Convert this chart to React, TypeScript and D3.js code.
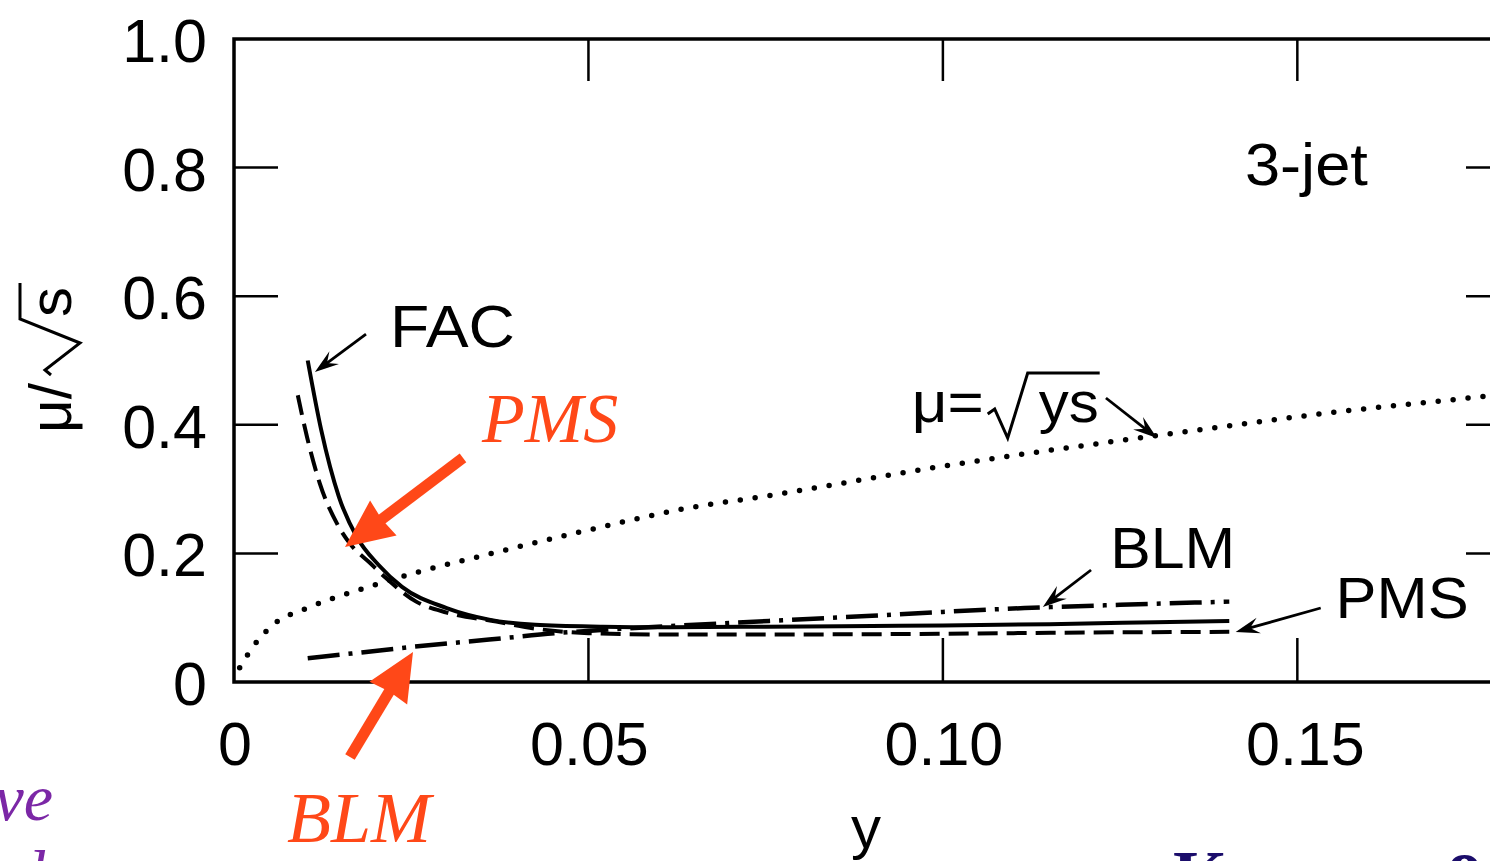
import React from 'react';
import * as d3 from 'd3';

// ---------- data ----------
const xTickValues = [0, 0.05, 0.1, 0.15];
const xTickLabels = ['0', '0.05', '0.10', '0.15'];
const yTickValues = [0, 0.2, 0.4, 0.6, 0.8, 1.0];
const yTickLabels = ['0', '0.2', '0.4', '0.6', '0.8', '1.0'];

// FAC (solid)
const facY = [0.0104, 0.0123, 0.0148, 0.0173, 0.0204, 0.0237, 0.030, 0.036, 0.0425, 0.052, 0.060, 0.075, 0.090, 0.100, 0.115, 0.130, 0.1404];
const facMu = [0.500, 0.392, 0.288, 0.226, 0.182, 0.148, 0.115, 0.097, 0.089, 0.086, 0.085, 0.086, 0.087, 0.088, 0.090, 0.093, 0.095];

// PMS (dashed)
const pmsY = [0.0090, 0.0103, 0.0121, 0.0145, 0.0163, 0.0192, 0.0214, 0.0257, 0.030, 0.037, 0.0425, 0.050, 0.060, 0.080, 0.100, 0.120, 0.1404];
const pmsMu = [0.446, 0.381, 0.309, 0.247, 0.216, 0.185, 0.162, 0.125, 0.108, 0.094, 0.083, 0.076, 0.074, 0.074, 0.075, 0.077, 0.078];

// BLM (dash-dot)
const blmY = [0.0104, 0.018, 0.0255, 0.036, 0.0455, 0.055, 0.065, 0.0755, 0.090, 0.100, 0.1115, 0.125, 0.1404];
const blmMu = [0.037, 0.046, 0.055, 0.066, 0.076, 0.083, 0.089, 0.095, 0.103, 0.109, 0.115, 0.120, 0.125];

// mu = sqrt(ys) (dotted)
const sqY = [0.0008, 0.0025, 0.0048, 0.011, 0.0173, 0.026, 0.036, 0.0487, 0.0638, 0.0755, 0.0996, 0.130, 0.1556, 0.177, 0.185];
const sqMu = [0.022, 0.052, 0.082, 0.118, 0.142, 0.171, 0.199, 0.233, 0.270, 0.290, 0.335, 0.383, 0.420, 0.445, 0.455];

// ---------- layout ----------
const W = 1490;
const H = 861;
const SANS = 'Liberation Sans, Arial, Helvetica, sans-serif';
const SCRIPT = 'Liberation Serif, DejaVu Serif, serif';
const RED = '#FF4818';

type P = [number, number];
const zip = (a: number[], b: number[]): P[] => a.map((v, i) => [v, b[i]] as P);

function headPath(x1: number, y1: number, x2: number, y2: number, len: number, half: number, notch: number) {
  const a = Math.atan2(y2 - y1, x2 - x1);
  const c = Math.cos(a), s = Math.sin(a);
  const pt = (u: number, v: number) => [x2 - u * c - v * s, y2 - u * s + v * c];
  const l = pt(len, half), r = pt(len, -half), n = pt(notch, 0);
  return `M${x2},${y2}L${l[0]},${l[1]}L${n[0]},${n[1]}L${r[0]},${r[1]}Z`;
}

function shaftEnd(x1: number, y1: number, x2: number, y2: number, back: number): P {
  const a = Math.atan2(y2 - y1, x2 - x1);
  return [x2 - back * Math.cos(a), y2 - back * Math.sin(a)];
}

export default function App() {
  const x = d3.scaleLinear().domain([0, 0.18]).range([234, 1510]);
  const y = d3.scaleLinear().domain([0, 1]).range([682, 39]);
  const line = d3
    .line<P>()
    .x((d) => x(d[0]))
    .y((d) => y(d[1]))
    .curve(d3.curveMonotoneX);

  const x0 = x(0), x1 = x(0.18), yT = y(1), yB = y(0);
  const tickLen = 44;

  // black annotation arrows in data space: [tailX, tailY, tipX, tipY]
  const blackArrows: number[][] = [
    [0.01862, 0.5412, 0.01142, 0.4821],
    [0.1230, 0.4417, 0.1302, 0.3795],
    [0.1209, 0.1742, 0.1141, 0.1166],
    [0.1533, 0.1151, 0.1413, 0.0778],
  ];
  const redArrows: number[][] = [
    [0.0323, 0.3484, 0.01566, 0.2100],
    [0.01636, -0.1166, 0.02525, 0.0467],
  ];

  return (
    <svg
      width={W}
      height={H}
      style={{ position: 'absolute', left: 0, top: 0, background: '#fff' }}
      fontFamily={SANS}
    >
      <defs>
        <clipPath id="plotclip">
          <rect x={x0} y={yT} width={x1 - x0} height={yB - yT} />
        </clipPath>
      </defs>
      <rect x={0} y={0} width={W} height={H} fill="#fff" />

      {/* frame */}
      <rect x={x0} y={yT} width={x1 - x0} height={yB - yT} fill="none" stroke="#000" strokeWidth={3.5} />

      {/* y ticks */}
      {yTickValues.map((v, i) => (
        <g key={'yt' + i}>
          {v > 0 && v < 1 && (
            <>
              <line x1={x0} x2={x0 + tickLen} y1={y(v)} y2={y(v)} stroke="#000" strokeWidth={2.5} />
              <line x1={x1 - tickLen} x2={x1} y1={y(v)} y2={y(v)} stroke="#000" strokeWidth={2.5} />
            </>
          )}
          <text x={207} y={y(v) + 23} textAnchor="end" fontSize={61} fill="#000">
            {yTickLabels[i]}
          </text>
        </g>
      ))}

      {/* x ticks */}
      {xTickValues.map((v, i) => (
        <g key={'xt' + i}>
          {v > 0 && (
            <>
              <line x1={x(v)} x2={x(v)} y1={yB} y2={yB - tickLen} stroke="#000" strokeWidth={2.5} />
              <line x1={x(v)} x2={x(v)} y1={yT} y2={yT + tickLen - 2} stroke="#000" strokeWidth={2.5} />
            </>
          )}
          <text x={x(v) + (i === 3 ? 8 : 1)} y={765} textAnchor="middle" fontSize={61} fill="#000">
            {xTickLabels[i]}
          </text>
        </g>
      ))}

      {/* axis titles */}
      <text x={866} y={848} textAnchor="middle" fontSize={60} fill="#000">y</text>
      <g transform="translate(71,433) rotate(-90)">
        <text x={0} y={0} fontSize={60} textLength={50} lengthAdjust="spacingAndGlyphs" fill="#000">μ/</text>
        <path d="M58,-20L63,-26L90,9L114,-51L150,-51" fill="none" stroke="#000" strokeWidth={3} />
        <text x={116} y={0} fontSize={60} fill="#000">s</text>
      </g>

      {/* curves */}
      <g clipPath="url(#plotclip)" fill="none" stroke="#000">
        <path d={line(zip(sqY, sqMu)) || ''} strokeWidth={5.5} strokeDasharray="0 15" strokeLinecap="round" />
        <path d={line(zip(facY, facMu)) || ''} strokeWidth={4} />
        <path d={line(zip(pmsY, pmsMu)) || ''} strokeWidth={4} strokeDasharray="20 9" />
        <path d={line(zip(blmY, blmMu)) || ''} strokeWidth={4.5} strokeDasharray="32 9 4 9" />
      </g>

      {/* black labels */}
      <text x={x(0.0220)} y={y(0.521)} fontSize={60} textLength={125} lengthAdjust="spacingAndGlyphs" fill="#000">FAC</text>
      <text x={x(0.1426)} y={y(0.773)} fontSize={60} textLength={123} lengthAdjust="spacingAndGlyphs" fill="#000">3-jet</text>
      <text x={x(0.1236)} y={y(0.1773)} fontSize={58} textLength={125} lengthAdjust="spacingAndGlyphs" fill="#000">BLM</text>
      <text x={x(0.1554)} y={y(0.0995)} fontSize={58} textLength={133} lengthAdjust="spacingAndGlyphs" fill="#000">PMS</text>
      <g transform={`translate(${x(0.0956)},${y(0.4043)})`}>
        <text x={0} y={0} fontSize={58} textLength={72} lengthAdjust="spacingAndGlyphs" fill="#000">μ=</text>
        <path d="M76,-8L83,-13L96,16L116,-49L188,-49" fill="none" stroke="#000" strokeWidth={3} />
        <text x={127} y={0} fontSize={58} textLength={60} lengthAdjust="spacingAndGlyphs" fill="#000">ys</text>
      </g>

      {/* black arrows */}
      {blackArrows.map((a, i) => {
        const [tx, ty, hx, hy] = [x(a[0]), y(a[1]), x(a[2]), y(a[3])];
        const e = shaftEnd(tx, ty, hx, hy, 12);
        return (
          <g key={'ba' + i}>
            <line x1={tx} y1={ty} x2={e[0]} y2={e[1]} stroke="#000" strokeWidth={2.8} />
            <path d={headPath(tx, ty, hx, hy, 24, 8, 15)} fill="#000" />
          </g>
        );
      })}

      {/* red annotations */}
      {redArrows.map((a, i) => {
        const [tx, ty, hx, hy] = [x(a[0]), y(a[1]), x(a[2]), y(a[3])];
        const e = shaftEnd(tx, ty, hx, hy, 38);
        return (
          <g key={'ra' + i}>
            <line x1={tx} y1={ty} x2={e[0]} y2={e[1]} stroke={RED} strokeWidth={11} />
            <path d={headPath(tx, ty, hx, hy, 48, 22, 46)} fill={RED} />
          </g>
        );
      })}
      <text x={x(0.0350)} y={y(0.3733)} fontSize={70} fontStyle="italic" fontFamily={SCRIPT} fill={RED}>PMS</text>
      <text x={x(0.00748)} y={y(-0.2488)} fontSize={72} fontStyle="italic" fontFamily={SCRIPT} fill={RED}>BLM</text>

      {/* slide fragments */}
      <text x={53} y={820} textAnchor="end" fontSize={66} fontStyle="italic" fontFamily={SCRIPT} fill="#7B27A6">ve</text>
      <text x={12} y={896} fontSize={66} fontStyle="italic" fontFamily={SCRIPT} fill="#7B27A6">d</text>
      <text x={1173} y={899} fontSize={70} fontWeight="bold" fontFamily={SCRIPT} fill="#1B0D6B">K</text>
      <text x={1447} y={888} fontSize={70} fontWeight="bold" fontFamily={SCRIPT} fill="#1B0D6B">o</text>
    </svg>
  );
}
